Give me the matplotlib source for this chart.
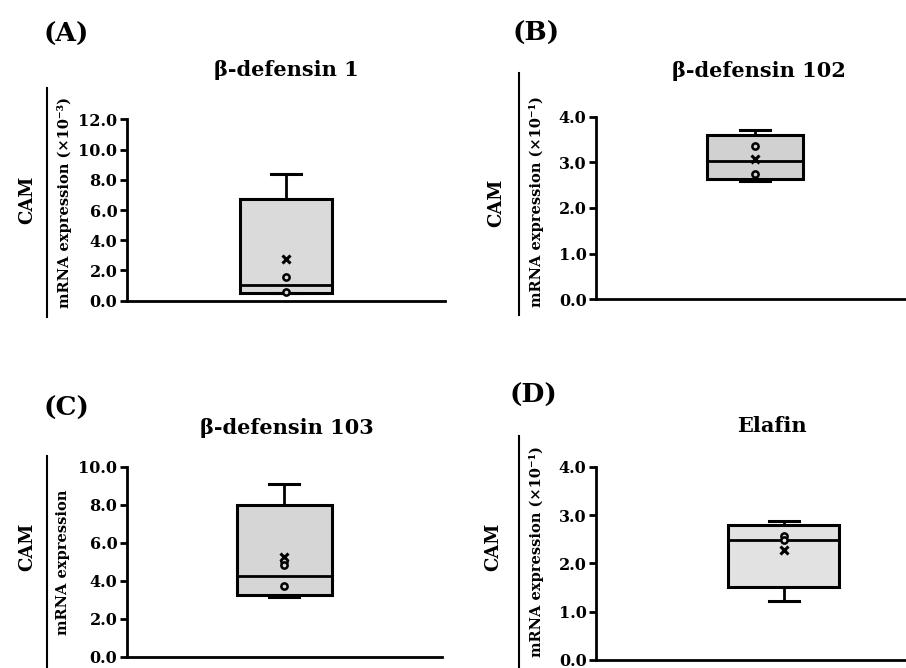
import matplotlib
matplotlib.use("Agg")
import matplotlib.pyplot as plt
from matplotlib.lines import Line2D

# ---------------- data ----------------
panel_labels = ["(A)", "(B)", "(C)", "(D)"]
titles = ["\u03b2-defensin 1", "\u03b2-defensin 102", "\u03b2-defensin 103", "Elafin"]
ylabels = ["mRNA expression (\u00d710\u207b\u00b3)", "mRNA expression (\u00d710\u207b\u00b9)",
           "mRNA expression", "mRNA expression (\u00d710\u207b\u00b9)"]
group_label = "CAM"

q1_vals = [0.49, 2.63, 3.25, 1.52]
median_vals = [1.04, 3.04, 4.23, 2.49]
q3_vals = [6.71, 3.61, 8.00, 2.79]
whislo_vals = [0.49, 2.60, 3.13, 1.22]
whishi_vals = [8.41, 3.71, 9.07, 2.87]
mean_vals = [2.74, 3.08, 5.25, 2.28]
points_A = [1.55, 0.56]
points_B = [3.36, 2.74]
points_C = [5.05, 4.84, 3.70]
points_D = [2.57, 2.49]
points = [points_A, points_B, points_C, points_D]

ymax_vals = [12.0, 4.0, 10.0, 4.0]
ytick_A = [0, 2, 4, 6, 8, 10, 12]
ytick_B = [0, 1, 2, 3, 4]
ytick_C = [0, 2, 4, 6, 8, 10]
ytick_D = [0, 1, 2, 3, 4]
yticks = [ytick_A, ytick_B, ytick_C, ytick_D]

# ---------------- layout ----------------
W, H = 906, 668
fig = plt.figure(figsize=(W / 100, H / 100), dpi=100)
FONT = ["DejaVu Serif"]

def fx(px):
    return px / W

def fy(py):
    return 1 - py / H

# axes in pixel coords: left, right, y_top(pixel for ymax), y_bottom(pixel for 0)
axes_px = [(127, 445, 119.3, 300.7),
           (596.3, 914, 116.7, 299.3),
           (127, 441.7, 466.7, 656.7),
           (596.3, 971, 466.7, 660.0)]
fills = ["#dadada", "#d1d1d1", "#d6d6d6", "#e2e2e2"]
box_w = [0.29, 0.30, 0.30, 0.295]
cap_px = 30

label_pos = [(66, 34), (536, 33), (66, 408), (533, 395)]
title_pos = [(286, 70), (759, 71), (287, 428), (772, 426)]
cam_pos = [(27, 200), (496, 203), (27, 547), (493, 547)]
vline = [(46.7, 88, 317), (518.7, 73, 315), (46.7, 456, 668), (518.7, 436, 668)]
mrna_pos = [(65, 202), (536, 202), (63, 562), (536, 552)]

for i in range(4):
    l, r, yt, yb = axes_px[i]
    ax = fig.add_axes([fx(l), fy(yb), fx(r - l), (yb - yt) / H])
    stats = [dict(med=median_vals[i], q1=q1_vals[i], q3=q3_vals[i],
                  whislo=whislo_vals[i], whishi=whishi_vals[i],
                  mean=mean_vals[i], fliers=[])]
    axw = r - l
    ax.bxp(stats, positions=[0.5], widths=box_w[i], patch_artist=True,
           showmeans=False, showfliers=False,
           boxprops=dict(facecolor=fills[i], edgecolor="black", linewidth=2.2),
           medianprops=dict(color="black", linewidth=2.0),
           whiskerprops=dict(color="black", linewidth=2.0),
           capprops=dict(color="black", linewidth=2.2),
           capwidths=cap_px / axw)
    ax.plot([0.5], [mean_vals[i]], marker="x", color="black", markersize=6,
            markeredgewidth=2.2, linestyle="none", zorder=5)
    ax.plot([0.5] * len(points[i]), points[i], marker="o", markersize=4.5,
            markerfacecolor=fills[i], markeredgecolor="black",
            markeredgewidth=1.8, linestyle="none", zorder=5)
    ax.set_xlim(0, 1)
    ax.set_ylim(0, ymax_vals[i])
    ax.set_yticks(yticks[i])
    ax.set_yticklabels([f"{v:.1f}" for v in yticks[i]], family=FONT,
                       fontweight="bold", fontsize=11.5)
    ax.set_xticks([])
    for s in ["top", "right"]:
        ax.spines[s].set_visible(False)
    for s in ["left", "bottom"]:
        ax.spines[s].set_linewidth(2.0)
    ax.tick_params(axis="y", direction="out", length=5, width=2.0, pad=2)
    ax.patch.set_alpha(0)

    # panel label
    fig.text(fx(label_pos[i][0]), fy(label_pos[i][1]), panel_labels[i],
             family=FONT, fontweight="bold", fontsize=19, ha="center", va="center")
    # title
    fig.text(fx(title_pos[i][0]), fy(title_pos[i][1]), titles[i],
             family=FONT, fontweight="bold", fontsize=15, ha="center", va="center")
    # CAM
    fig.text(fx(cam_pos[i][0]), fy(cam_pos[i][1]), group_label, rotation=90,
             family=FONT, fontweight="bold", fontsize=13, ha="center", va="center")
    # vertical separator line
    vx, vy0, vy1 = vline[i]
    fig.add_artist(Line2D([fx(vx), fx(vx)], [fy(vy0), fy(vy1)],
                          color="black", linewidth=1.5))
    # mRNA label
    fig.text(fx(mrna_pos[i][0]), fy(mrna_pos[i][1]), ylabels[i], rotation=90,
             family=FONT, fontweight="bold", fontsize=10.5, ha="center", va="center")

fig.savefig("out.png", dpi=100)
